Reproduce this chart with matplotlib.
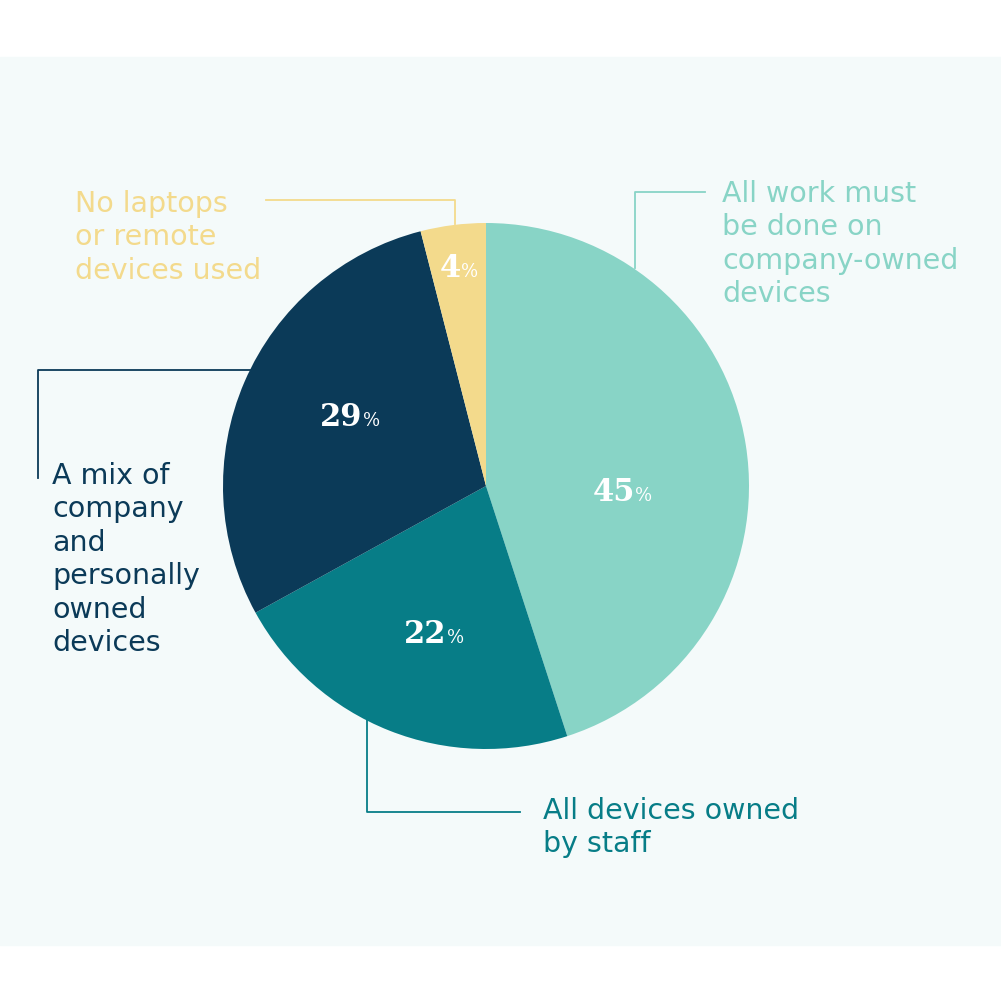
import numpy as np
import matplotlib
matplotlib.use("Agg")
from matplotlib import pyplot as plt
from matplotlib.patches import Rectangle

# data
categories = ["All work must be done on company-owned devices",
              "All devices owned by staff",
              "A mix of company and personally owned devices",
              "No laptops or remote devices used"]
values = [45, 22, 29, 4]
colors = ["#88d4c6", "#077d87", "#0b3a58", "#f3da8c"]

label_lines = [["All work must", "be done on", "company-owned", "devices"],
               ["All devices owned", "by staff"],
               ["A mix of", "company", "and", "personally", "owned", "devices"],
               ["No laptops", "or remote", "devices used"]]

W = 1001
BG = "#f4fafa"

fig = plt.figure(figsize=(10.01, 10.01), dpi=100)
ax = fig.add_axes([0, 0, 1, 1])


def py(y):
    # pixel-from-top -> data y
    return W - y


ax.add_patch(Rectangle((0, py(945)), W, 945 - 57, color=BG, zorder=0))

cx, cy, r = 486, 486, 263
wedges, _ = ax.pie(values, colors=colors, startangle=90, counterclock=False,
                   center=(cx, py(cy)), radius=r, frame=True,
                   wedgeprops=dict(linewidth=0, zorder=3))
ax.set_xlim(0, W)
ax.set_ylim(0, W)
ax.set_aspect("equal")
ax.axis("off")

# leader lines
lw = 1.3
ax.plot([635, 635, 705], [py(268), py(192), py(192)], color=colors[0], lw=lw, zorder=2)
ax.plot([367, 367, 520], [py(720), py(812), py(812)], color=colors[1], lw=lw, zorder=2)
ax.plot([250, 38, 38], [py(370), py(370), py(478)], color=colors[2], lw=lw, zorder=2)
ax.plot([266, 455, 455], [py(200), py(200), py(224)], color=colors[3], lw=lw, zorder=2)

# category labels
label_pos = [(722, 202), (543, 819), (52, 484), (75, 212)]
step = 33.4
for lines, (x0, y0), c in zip(label_lines, label_pos, colors):
    for i, line in enumerate(lines):
        ax.text(x0, py(y0 + i * step), line, color=c, fontsize=20.5,
                family="DejaVu Sans", va="baseline", ha="left", zorder=4)

# percentage labels
pct_pos = [(622, 501), (434, 643), (350, 426), (459, 277)]
renderer = fig.canvas.get_renderer()
inv = ax.transData.inverted()
for v, (x0, y0) in zip(values, pct_pos):
    tn = ax.text(0, py(y0), str(v), color="white", fontsize=22, family="DejaVu Serif",
                 fontweight="bold", va="baseline", ha="left", zorder=5)
    tp = ax.text(0, py(y0), "%", color="white", fontsize=13, family="DejaVu Serif",
                 va="baseline", ha="left", zorder=5)
    bn = tn.get_window_extent(renderer=renderer)
    bp = tp.get_window_extent(renderer=renderer)
    wn = inv.transform((bn.x1, 0))[0] - inv.transform((bn.x0, 0))[0]
    wp = inv.transform((bp.x1, 0))[0] - inv.transform((bp.x0, 0))[0]
    left = x0 - (wn + wp) / 2
    tn.set_x(left)
    tp.set_x(left + wn)

fig.savefig("out.png", dpi=100, facecolor="white")
